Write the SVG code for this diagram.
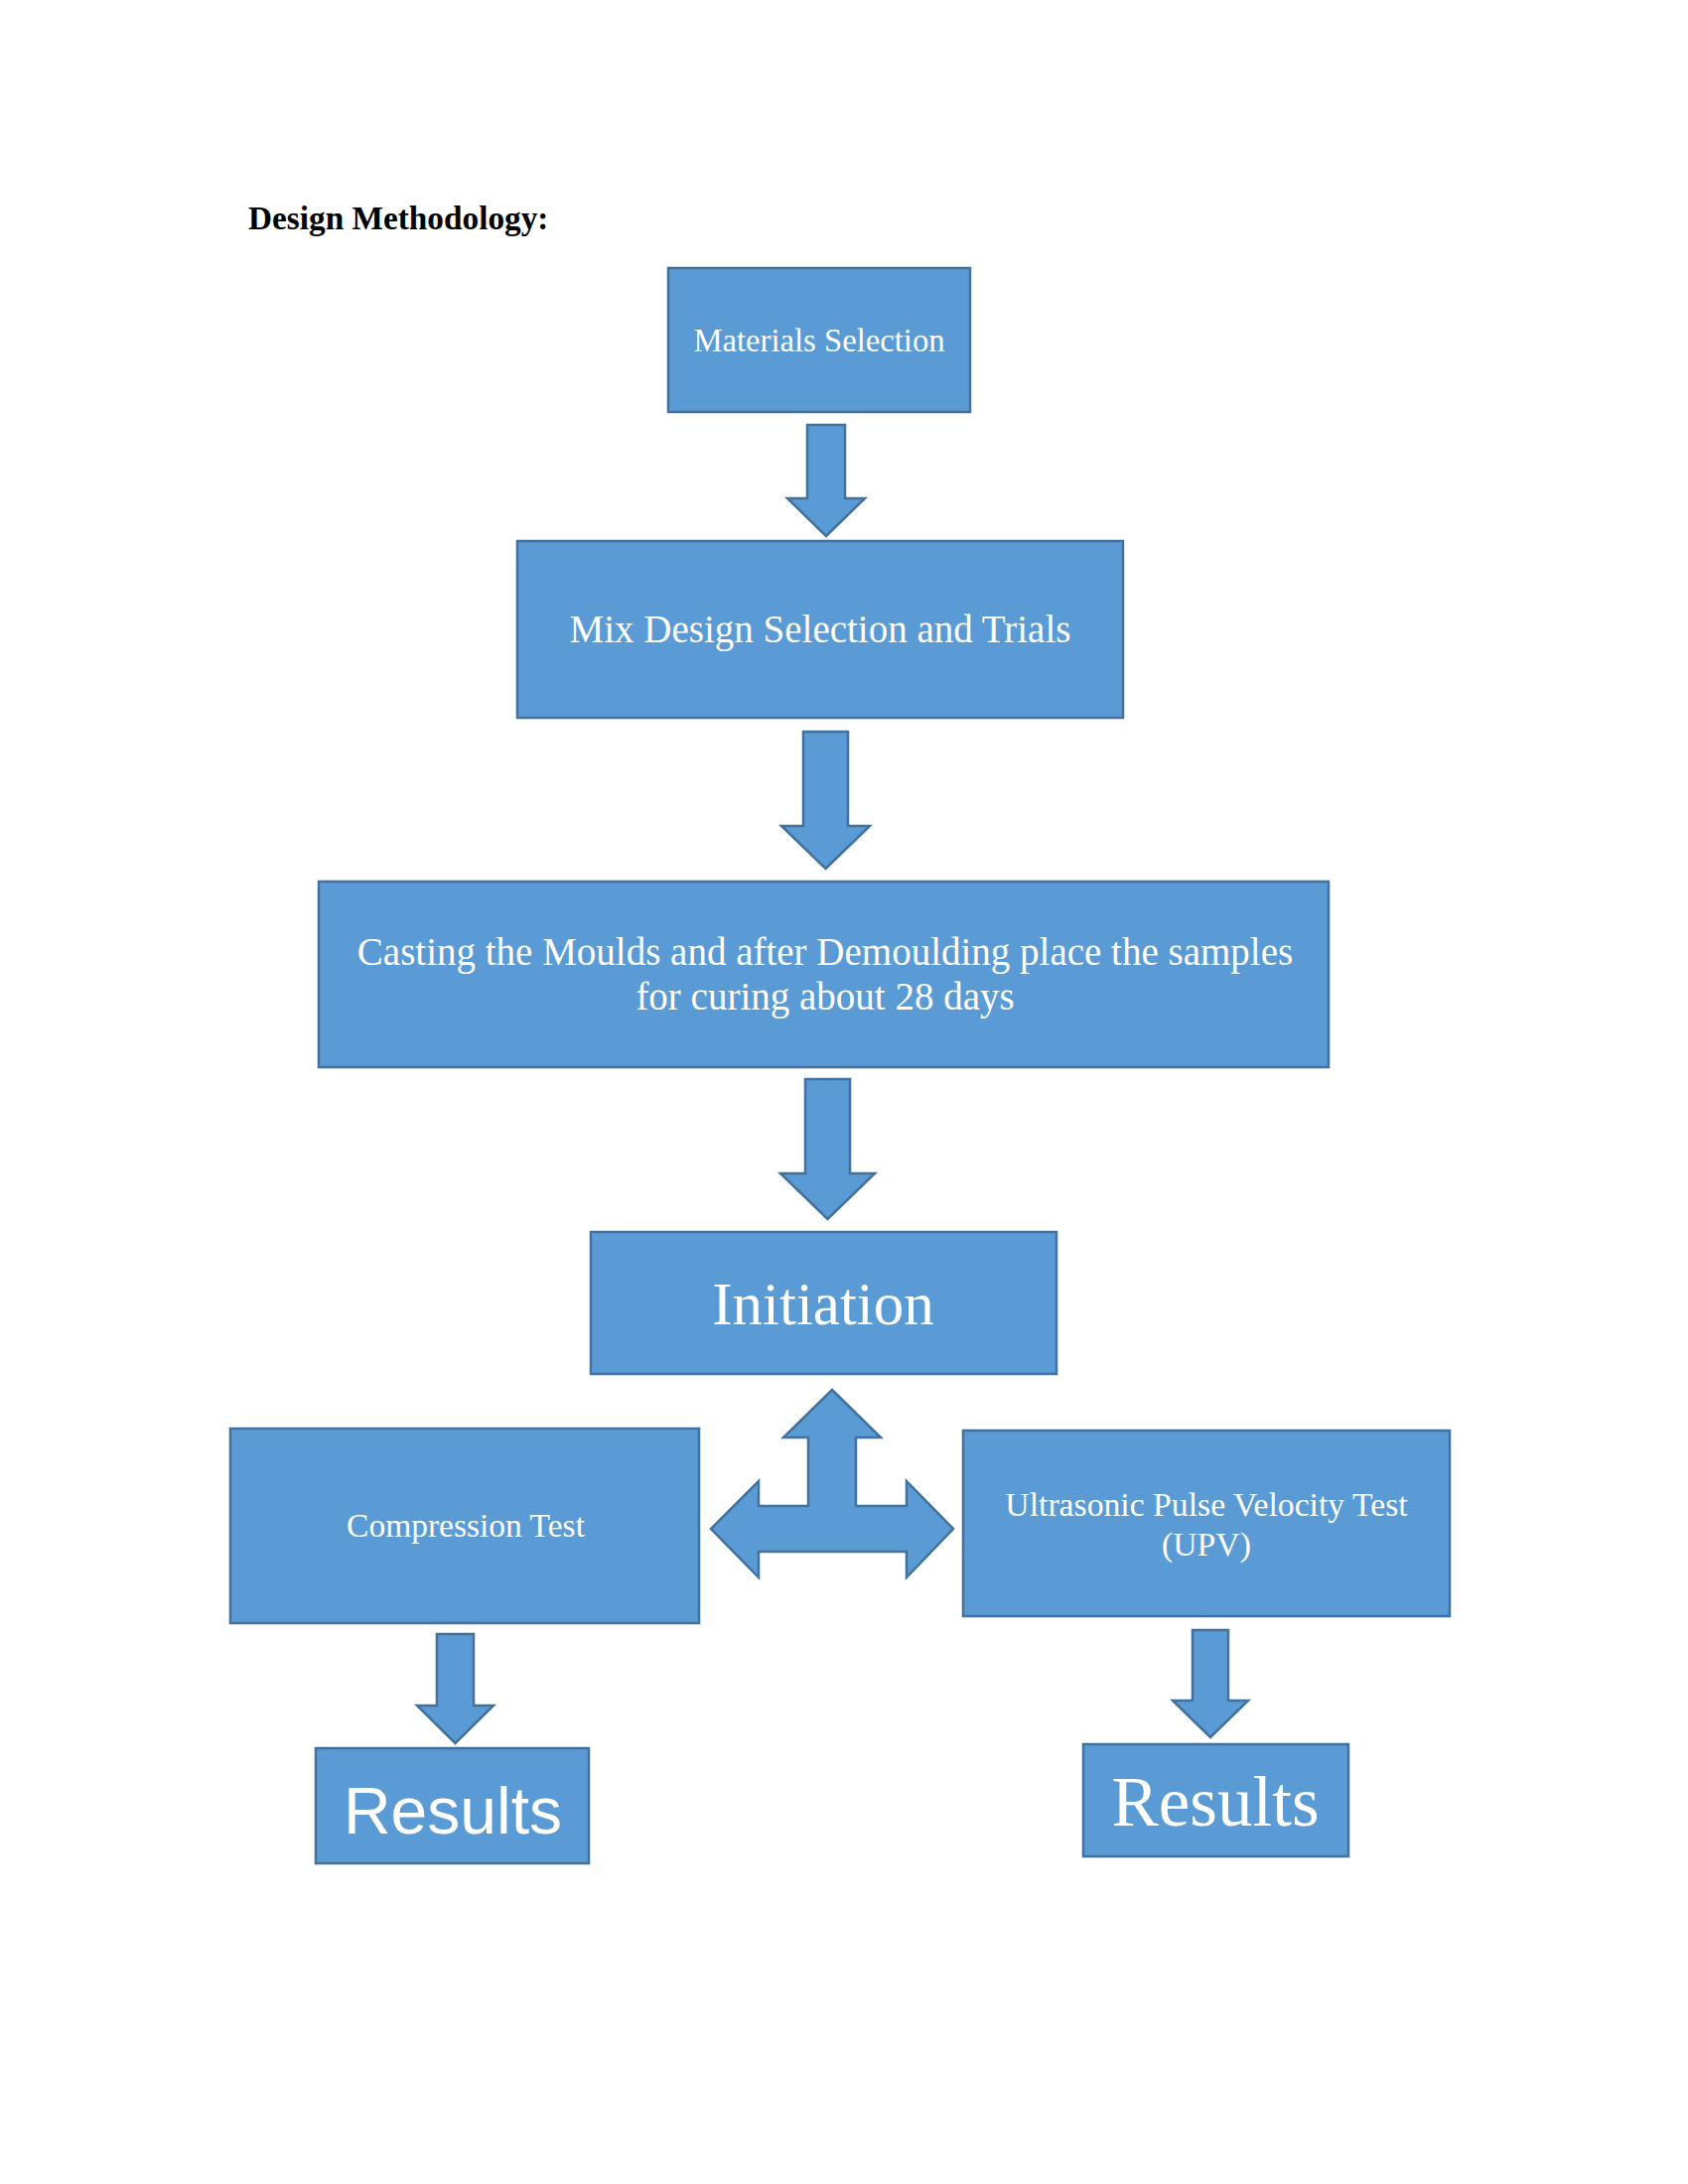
<svg xmlns="http://www.w3.org/2000/svg" width="1700" height="2200" viewBox="0 0 1700 2200">
<style>
.box{fill:#5B9BD5;stroke:#41719C;stroke-width:2.5}
.arr{fill:#5B9BD5;stroke:#41719C;stroke-width:2.5;stroke-linejoin:miter}
.t{font-family:"Liberation Serif","Times New Roman",serif;fill:#FFFFFF;text-anchor:middle}
.s{font-family:"Liberation Sans",Arial,sans-serif;fill:#FFFFFF;text-anchor:middle}
</style>
<rect width="1700" height="2200" fill="#FFFFFF"/>
<text x="250" y="231" font-family="Liberation Serif,Times New Roman,serif" font-weight="bold" font-size="33.3" fill="#000000">Design Methodology:</text>
<g id="connectors">
<polygon class="arr" points="813,428 851,428 851,502 871,502 832,540 793,502 813,502"/>
<polygon class="arr" points="809,737 854,737 854,832 876,832 831.5,875 787,832 809,832"/>
<polygon class="arr" points="811,1087 856,1087 856,1182 881,1182 833.5,1228 786,1182 811,1182"/>
<polygon class="arr" points="838,1400 887,1448 862,1448 862,1517 913,1517 913,1492 960,1540 913,1589 913,1563 764,1563 764,1589 716,1540 764,1492 764,1517 814,1517 814,1448 789,1448"/>
<polygon class="arr" points="440,1646 477,1646 477,1718 497,1718 458.5,1756 420,1718 440,1718"/>
<polygon class="arr" points="1201,1642 1237,1642 1237,1713 1257,1713 1219,1750 1181,1713 1201,1713"/>
</g>
<g id="materials">
<rect class="box" x="673" y="270" width="304" height="145"/>
<text class="t" x="825" y="354" font-size="32.7">Materials Selection</text>
</g>
<g id="mix">
<rect class="box" x="521" y="545" width="610" height="178"/>
<text class="t" x="826" y="647" font-size="39">Mix Design Selection and Trials</text>
</g>
<g id="casting">
<rect class="box" x="321" y="888" width="1017" height="187"/>
<text class="t" x="831" y="972" font-size="39">Casting the Moulds and after Demoulding place the samples</text>
<text class="t" x="831" y="1017" font-size="39">for curing about 28 days</text>
</g>
<g id="initiation">
<rect class="box" x="595" y="1241" width="469" height="143"/>
<text class="t" x="829" y="1334" font-size="61">Initiation</text>
</g>
<g id="compression">
<rect class="box" x="232" y="1439" width="472" height="196"/>
<text class="t" x="469" y="1548" font-size="33.5">Compression Test</text>
</g>
<g id="upv">
<rect class="box" x="970" y="1441" width="490" height="187"/>
<text class="t" x="1215" y="1527" font-size="33.7">Ultrasonic Pulse Velocity Test</text>
<text class="t" x="1215" y="1567" font-size="33.7">(UPV)</text>
</g>
<g id="results1">
<rect class="box" x="318" y="1761" width="275" height="116"/>
<text class="s" x="456" y="1847" font-size="66">Results</text>
</g>
<g id="results2">
<rect class="box" x="1091" y="1757" width="267" height="113"/>
<text class="t" x="1224" y="1839" font-size="71">Results</text>
</g>
</svg>
